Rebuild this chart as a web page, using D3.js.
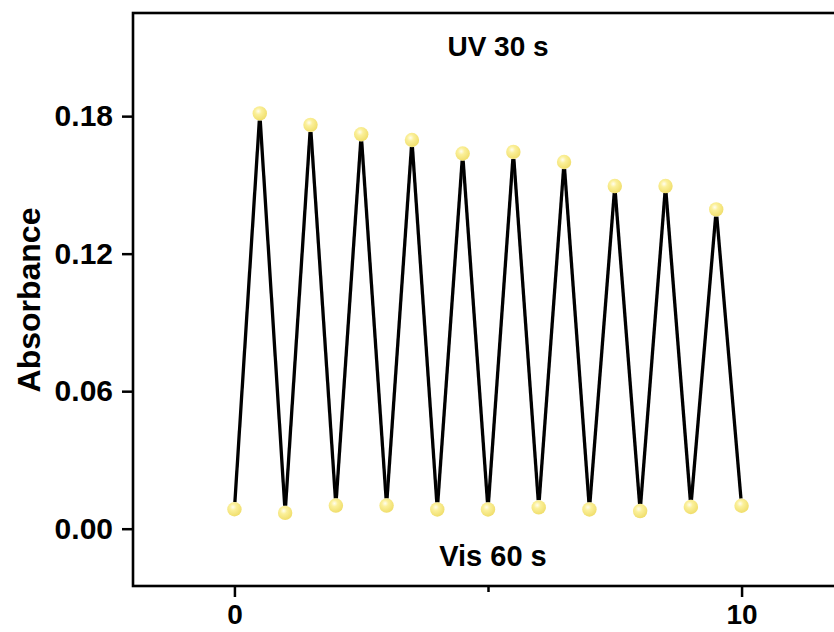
<html>
<head>
<script src="https://d3js.org/d3.v7.min.js"></script>
<style>
  body { margin: 0; background: #fff; }
  text { font-family: "Liberation Sans", Arial, sans-serif; font-weight: bold; fill: #000; }
</style>
</head>
<body>
<svg id="svg" width="834" height="632"></svg>
<script>
// switching cycles: odd half-steps = after UV, integers = after Vis
const cycles = [0, 0.5, 1, 1.5, 2, 2.5, 3, 3.5, 4, 4.5, 5, 5.5, 6, 6.5, 7, 7.5, 8, 8.5, 9, 9.5, 10]
const absorbance = [0.0085, 0.1812, 0.0069, 0.1762, 0.0101, 0.1721, 0.0101, 0.1696, 0.0084, 0.1637,
                    0.0084, 0.1644, 0.0093, 0.1600, 0.0084, 0.1495, 0.0077, 0.1495, 0.0095, 0.1393, 0.0100]
const xMajor = [0, 10]
const xMinor = [5]
const yTicks = [0, 0.06, 0.12, 0.18]

const svg = d3.select('#svg')
const plotLeft = 133, plotTop = 13, plotBottom = 586, plotRight = 843
const r = 7.2

const x = d3.scaleLinear().domain([-2, 12]).range([plotLeft, plotRight])
const y = d3.scaleLinear().domain([-0.025, 0.225]).range([plotBottom, plotTop])

// gradient for the ball markers
const grad = svg.append('defs').append('radialGradient')
  .attr('id', 'ball').attr('cx', '40%').attr('cy', '35%').attr('r', '65%')
grad.append('stop').attr('offset', '0%').attr('stop-color', '#fffdf0')
grad.append('stop').attr('offset', '35%').attr('stop-color', '#fbf09a')
grad.append('stop').attr('offset', '100%').attr('stop-color', '#f0de6c')

// axes
svg.append('g')
  .attr('transform', `translate(0,${plotBottom})`)
  .call(d3.axisBottom(x).tickValues(xMinor).tickSize(6).tickFormat(''))
  .call(g => g.select('.domain').remove())
  .call(g => g.selectAll('line').attr('stroke-width', 2.5))

svg.append('g')
  .attr('transform', `translate(0,${plotBottom})`)
  .call(d3.axisBottom(x).tickValues(xMajor).tickSize(11).tickPadding(7).tickFormat(d3.format('d')))
  .call(g => g.select('.domain').remove())
  .call(g => g.selectAll('line').attr('stroke-width', 2.5))
  .call(g => g.selectAll('text').style('font-size', '28px').attr('fill', '#000'))

svg.append('g')
  .attr('transform', `translate(${plotLeft},0)`)
  .call(d3.axisLeft(y).tickValues(yTicks).tickSize(11).tickPadding(9).tickFormat(d3.format('.2f')))
  .call(g => g.select('.domain').remove())
  .call(g => g.selectAll('line').attr('stroke-width', 2.5))
  .call(g => g.selectAll('text').style('font-size', '30px').attr('fill', '#000'))

// frame
svg.append('rect')
  .attr('x', plotLeft).attr('y', plotTop)
  .attr('width', plotRight - plotLeft).attr('height', plotBottom - plotTop)
  .attr('fill', 'none').attr('stroke', '#000').attr('stroke-width', 2.6)

// connecting line, with a gap at each symbol
const pts = cycles.map((c, i) => [x(c), y(absorbance[i])])
const segs = d3.pairs(pts).map(([a, b]) => {
  const dx = b[0] - a[0], dy = b[1] - a[1]
  const len = Math.hypot(dx, dy)
  const ux = dx / len, uy = dy / len
  return [[a[0] + ux * r, a[1] + uy * r], [b[0] - ux * r, b[1] - uy * r]]
})
svg.append('g').selectAll('path')
  .data(segs)
  .enter()
  .append('path')
  .attr('d', d3.line())
  .attr('stroke', '#000')
  .attr('stroke-width', 3.3)
  .attr('fill', 'none')

svg.append('g').selectAll('circle')
  .data(pts)
  .enter()
  .append('circle')
  .attr('cx', d => d[0])
  .attr('cy', d => d[1])
  .attr('r', r)
  .attr('fill', 'url(#ball)')

// labels
svg.append('text')
  .attr('transform', 'translate(40,300) rotate(-90)')
  .attr('text-anchor', 'middle')
  .style('font-size', '32px')
  .text('Absorbance')

svg.append('text')
  .attr('x', 498).attr('y', 56)
  .attr('text-anchor', 'middle')
  .style('font-size', '28px')
  .text('UV 30 s')

svg.append('text')
  .attr('x', 493).attr('y', 566)
  .attr('text-anchor', 'middle')
  .style('font-size', '29px')
  .text('Vis 60 s')
</script>
</body>
</html>
